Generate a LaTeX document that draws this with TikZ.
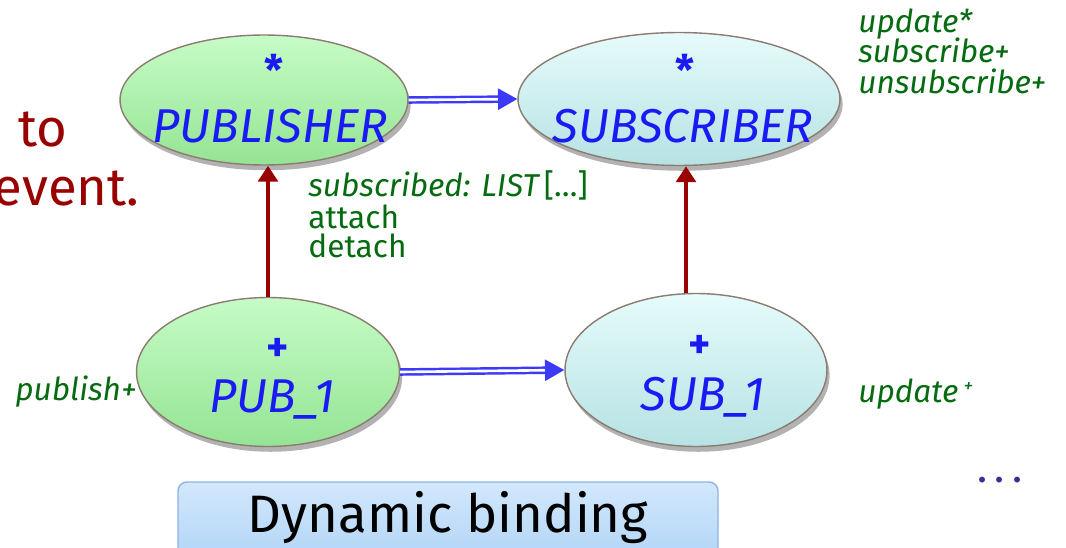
\documentclass[tikz,border=0pt]{standalone}
\usepackage{fontspec}
\setmainfont{Fira Sans}
\usetikzlibrary{arrows.meta,shadows,shapes.geometric}
\definecolor{inkblue}{HTML}{1A1AF5}
\definecolor{featgreen}{HTML}{046B10}
\definecolor{heirred}{HTML}{990000}
\definecolor{clientblue}{HTML}{3A3AF8}
\definecolor{ellborder}{HTML}{8C7B70}
\definecolor{pubtop}{HTML}{C6FCC6}
\definecolor{pubbot}{HTML}{94E494}
\definecolor{subtop}{HTML}{E6FBFB}
\definecolor{subbot}{HTML}{B6E2E4}
\definecolor{boxtop}{HTML}{D2E8FC}
\definecolor{boxbot}{HTML}{AED2F6}
\definecolor{boxline}{HTML}{8DB4E2}
\definecolor{dotsblue}{HTML}{33338F}
\begin{document}
\begin{tikzpicture}[x=0.02cm,y=-0.02cm,
  cls/.style={ellipse, draw=ellborder, line width=0.8pt, inner sep=0pt,
    drop shadow={shadow xshift=1.5pt, shadow yshift=-3pt, opacity=0.3, fill=black}},
  pubcls/.style={cls, top color=pubtop, bottom color=pubbot},
  subcls/.style={cls, top color=subtop, bottom color=subbot},
  clsname/.style={inner sep=0pt, anchor=base, text=inkblue, font=\fontsize{27}{30}\selectfont\itshape},
  clsmark/.style={inner sep=0pt, text=inkblue, font=\fontsize{24}{26}\selectfont\bfseries},
  feat/.style={inner sep=0pt, anchor=base west, text=featgreen, font=\fontsize{18}{20}\selectfont},
  inherit/.style={draw=heirred, line width=2.8pt, -{Triangle[length=9pt,width=11pt]}},
  client/.style={draw=clientblue, line width=1.4pt, double=white, double distance=1.5pt,
    -{Triangle[length=11pt,width=12pt]}}]
\useasboundingbox (0,0) rectangle (1066,548);

% classes
\node[pubcls, minimum width=5.76cm, minimum height=2.6cm] (publisher) at (264,100) {};
\node[subcls, minimum width=6.44cm, minimum height=2.66cm] (subscriber) at (679,99) {};
\node[pubcls, minimum width=5.26cm, minimum height=2.98cm] (pubone) at (268,372) {};
\node[subcls, minimum width=5.24cm, minimum height=3.06cm] (subone) at (696,370) {};

% class names and markers
\node[clsmark] (publisherstar) at (274,70) {*};
\node[clsname] (publishername) at (270,142) {PUBLISHER};
\node[clsmark] (subscriberstar) at (685,70) {*};
\node[clsname] (subscribername) at (683,142) {SUBSCRIBER};
\node[clsmark] (pubonemark) at (278,350) {+};
\node[clsname] (pubonename) at (272,412) {PUB\_1};
\node[clsmark] (subonemark) at (700,347) {+};
\node[clsname] (subonename) at (703,410) {SUB\_1};

% client relations
\draw[client] (publisher.east) -- (subscriber.west);
\draw[client] (pubone.east) -- (subone.west);

% inheritance
\draw[inherit] (pubone.north) -- (pubone.north |- publisher.south);
\draw[inherit] ([xshift=-0.2cm]subone.north) -- ([xshift=-0.2cm]subone.north |- subscriber.south);

% features
\node[feat] (fupdate) at (858,32) {\itshape update*};
\node[feat] (fsubscribe) at (858,62) {\itshape subscribe+};
\node[feat] (funsubscribe) at (858,93) {\itshape unsubscribe+};
\node[feat] (fsubscribed) at (308,196) {\itshape subscribed: LIST\upshape\,[…]};
\node[feat] (fattach) at (308,228) {attach};
\node[feat] (fdetach) at (308,257) {detach};
\node[feat] (fpublish) at (15,400) {\itshape publish+};
\node[feat] (fupdatetwo) at (858,402) {\itshape update\,\raisebox{0.55ex}{\fontsize{11}{12}\selectfont +}};

% side text
\node[inner sep=0pt, anchor=base east, text=heirred, font=\fontsize{30}{34}\selectfont] (sideto) at (68,146) {to};
\node[inner sep=0pt, anchor=base east, text=heirred, font=\fontsize{30}{34}\selectfont] (sideevent) at (140,205) {event.};

% continuation dots
\node[inner sep=0pt, text=dotsblue, font=\fontsize{24}{26}\selectfont] (dots) at (1000,480) {.\,.\,.};

% caption box
\shade[top color=boxtop, bottom color=boxbot, draw=boxline, line width=0.8pt, rounded corners=5pt]
  (178,482) rectangle (718,570);
\node[inner sep=0pt, anchor=base, text=black, font=\fontsize{30}{34}\selectfont] (caption) at (448,532) {Dynamic binding};
\end{tikzpicture}
\end{document}
